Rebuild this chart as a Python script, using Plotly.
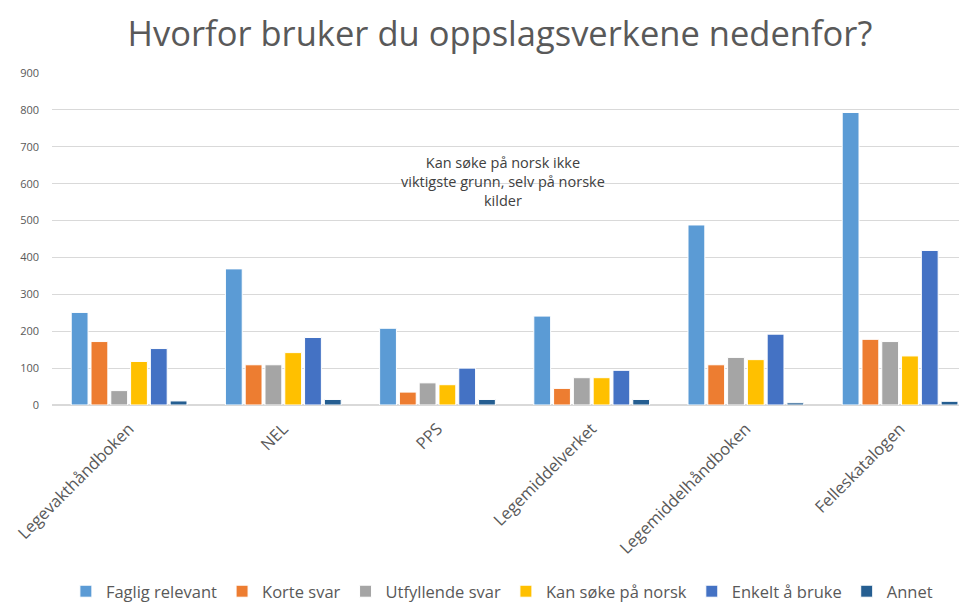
import plotly.graph_objects as go

categories = ["Legevakthåndboken", "NEL", "PPS", "Legemiddelverket",
              "Legemiddelhåndboken", "Felleskatalogen"]

faglig_relevant = [251, 369, 208, 241, 488, 793]
korte_svar = [172, 109, 35, 45, 109, 178]
utfyllende_svar = [39, 109, 60, 74, 129, 172]
kan_soke_norsk = [118, 142, 55, 74, 123, 133]
enkelt_bruke = [153, 183, 100, 94, 192, 419]
annet = [11, 15, 15, 15, 6, 10]

series = [
    ("Faglig relevant", faglig_relevant, "#5B9BD5"),
    ("Korte svar", korte_svar, "#ED7D31"),
    ("Utfyllende svar", utfyllende_svar, "#A5A5A5"),
    ("Kan søke på norsk", kan_soke_norsk, "#FFC000"),
    ("Enkelt å bruke", enkelt_bruke, "#4472C4"),
    ("Annet", annet, "#255E91"),
]

FONT = "Open Sans"

fig = go.Figure()
for name, vals, color in series:
    fig.add_trace(go.Bar(
        x=categories, y=vals, name=name,
        marker=dict(color=color, line=dict(color="white", width=1)),
    ))

fig.add_annotation(
    text="Kan søke på norsk ikke<br>viktigste grunn, selv på norske<br>kilder",
    xref="paper", yref="y", x=0.493, y=607, yanchor="middle",
    showarrow=False, font=dict(family=FONT, size=14.5, color="#404040"),
)

# page body has an 8px margin; the last category runs off the right edge like the original
fig.update_layout(
    width=959, height=596,
    barmode="group", bargap=0.23, bargroupgap=0.15,
    plot_bgcolor="white", paper_bgcolor="white",
    margin=dict(l=44, r=0, t=65, b=199),
    title=dict(text="Hvorfor bruker du oppslagsverkene nedenfor?",
               x=0.513, xanchor="center", y=0.957, yanchor="middle",
               font=dict(family=FONT, size=34.5, color="#595959")),
    font=dict(family=FONT, color="#595959"),
    yaxis=dict(range=[0, 900], dtick=100, showgrid=True, gridcolor="#D9D9D9",
               gridwidth=1, zeroline=True, zerolinecolor="#D9D9D9",
               tickfont=dict(size=11, color="#595959"), ticklabelstandoff=12,
               automargin=False),
    xaxis=dict(range=[-0.5, 5.434], tickangle=-45,
               tickfont=dict(size=16.5, color="#595959"),
               ticklabelstandoff=10, showline=False, automargin=False),
    legend=dict(orientation="h", xref="container", x=0.515, xanchor="center",
                yref="container", y=0.021, yanchor="middle",
                font=dict(size=16.5, color="#595959"),
                itemwidth=30, traceorder="normal"),
)

fig.write_html("out.html")
